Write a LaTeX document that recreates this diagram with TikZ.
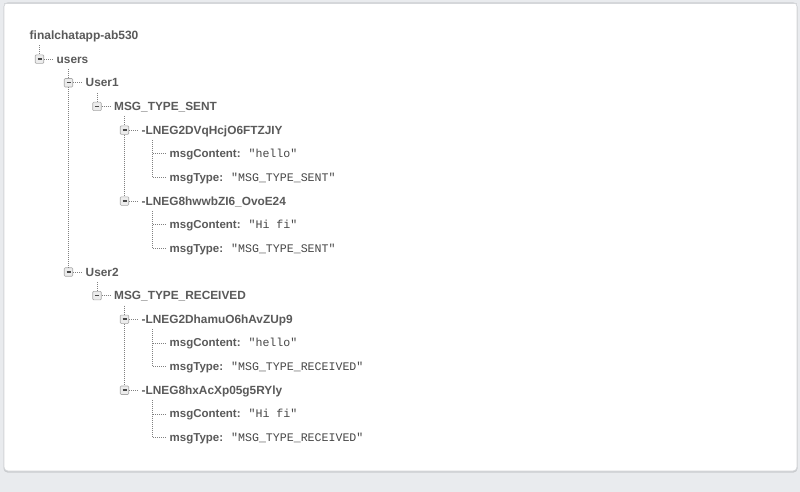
\documentclass[tikz,border=0pt]{standalone}
\usepackage{fontspec}
\setmainfont{Liberation Sans}
\newfontfamily\valfont{Liberation Mono}
\usetikzlibrary{calc}
\definecolor{bgc}{HTML}{E9EBEE}
\definecolor{cardline}{HTML}{D5D7DA}
\definecolor{shadowc}{HTML}{C9CBCE}
\definecolor{keyc}{HTML}{5A5A5A}
\definecolor{valc}{HTML}{474747}
\definecolor{dotc}{HTML}{808080}
\definecolor{iconline}{HTML}{A8A8A8}
\definecolor{iconfill}{HTML}{ECECEC}
\newcommand\ry[1]{35.5+23.65*#1}
\tikzset{
  tree/.style={draw=dotc, line width=0.7pt, dash pattern=on 0.9pt off 1.1pt},
  icon/.style={draw=iconline, fill=iconfill, rounded corners=1pt, minimum width=8.5pt, minimum height=8.5pt, inner sep=0pt, line width=0.6pt},
  keytext/.style={anchor=west, inner xsep=3pt, inner ysep=0pt, text height=10pt, text depth=2pt, text=keyc, font=\fontsize{11.85pt}{14pt}\selectfont\bfseries},
  leaftext/.style={anchor=west, inner xsep=3pt, inner ysep=0pt, text height=9.5pt, text depth=2pt, text=keyc, font=\fontsize{11.5pt}{13pt}\selectfont\bfseries},
}
\newcommand\tnode[4]{%
  \node[icon] (#1i) at (#2,{\ry{#3}}) {\textcolor{valc}{\rule[0.2pt]{4pt}{1.6pt}}};
  \node[keytext] (#1) at ($(#1i.center)+(14,0)$) {#4};
  \draw[tree] (#1i.east) -- (#1.west);
}
\newcommand\leafnode[5]{%
  \node[leaftext] (#1) at (#2+14,{\ry{#3}}) {#4:\hspace{8pt}{\valfont\mdseries\fontsize{11.6pt}{13pt}\selectfont\textcolor{valc}{#5}}};
}
\begin{document}
\begin{tikzpicture}[x=1pt,y=-1pt]
\useasboundingbox (0,0) rectangle (800,492);
\fill[bgc] (0,0) rectangle (800,492);
% card
\fill[shadowc, rounded corners=4pt] (3.5,3) rectangle (797.5,472.5);
\draw[cardline, fill=white, rounded corners=4pt, line width=0.7pt] (4,2.5) rectangle (797,471);
\draw[cardline, line width=0.8pt] (4,3) -- (797,3);

% root
\node[keytext, font=\fontsize{12pt}{14pt}\selectfont\bfseries, inner xsep=0pt] (root) at (29.5,{\ry{0}}) {finalchatapp-ab530};

\tnode{users}{39.5}{1}{users}
\tnode{uA}{68.5}{2}{User1}
\tnode{sent}{97}{3}{MSG\_TYPE\_SENT}
\tnode{kA}{124.5}{4}{-LNEG2DVqHcjO6FTZJIY}
\leafnode{kAc}{152.5}{5}{msgContent}{"hello"}
\leafnode{kAt}{152.5}{6}{msgType}{"MSG\_TYPE\_SENT"}
\tnode{kB}{124.5}{7}{-LNEG8hwwbZI6\_OvoE24}
\leafnode{kBc}{152.5}{8}{msgContent}{"Hi fi"}
\leafnode{kBt}{152.5}{9}{msgType}{"MSG\_TYPE\_SENT"}
\tnode{uB}{68.5}{10}{User2}
\tnode{recv}{97}{11}{MSG\_TYPE\_RECEIVED}
\tnode{kC}{124.5}{12}{-LNEG2DhamuO6hAvZUp9}
\leafnode{kCc}{152.5}{13}{msgContent}{"hello"}
\leafnode{kCt}{152.5}{14}{msgType}{"MSG\_TYPE\_RECEIVED"}
\tnode{kD}{124.5}{15}{-LNEG8hxAcXp05g5RYly}
\leafnode{kDc}{152.5}{16}{msgContent}{"Hi fi"}
\leafnode{kDt}{152.5}{17}{msgType}{"MSG\_TYPE\_RECEIVED"}

% start points of child lines
\coordinate (s0) at (39.5,{\ry{0}+10});
\coordinate (s1) at (68.5,{\ry{1}+10});
\coordinate (s2) at (97,{\ry{2}+10});
\coordinate (s3) at (124.5,{\ry{3}+10});
\coordinate (s4) at (152.5,{\ry{4}+10});
\coordinate (s7) at (152.5,{\ry{7}+10});
\coordinate (s10) at (97,{\ry{10}+10});
\coordinate (s11) at (124.5,{\ry{11}+10});
\coordinate (s12) at (152.5,{\ry{12}+10});
\coordinate (s15) at (152.5,{\ry{15}+10});

\draw[tree] (s0) -- (usersi.north);
\draw[tree] (s1) -- (uAi.north);
\draw[tree] (uAi.south) -- (uBi.north);
\draw[tree] (s2) -- (senti.north);
\draw[tree] (s3) -- (kAi.north);
\draw[tree] (kAi.south) -- (kBi.north);
\draw[tree] (s4) |- (kAc.west);
\draw[tree] (s4) |- (kAt.west);
\draw[tree] (s7) |- (kBc.west);
\draw[tree] (s7) |- (kBt.west);
\draw[tree] (s10) -- (recvi.north);
\draw[tree] (s11) -- (kCi.north);
\draw[tree] (kCi.south) -- (kDi.north);
\draw[tree] (s12) |- (kCc.west);
\draw[tree] (s12) |- (kCt.west);
\draw[tree] (s15) |- (kDc.west);
\draw[tree] (s15) |- (kDt.west);
\end{tikzpicture}
\end{document}
